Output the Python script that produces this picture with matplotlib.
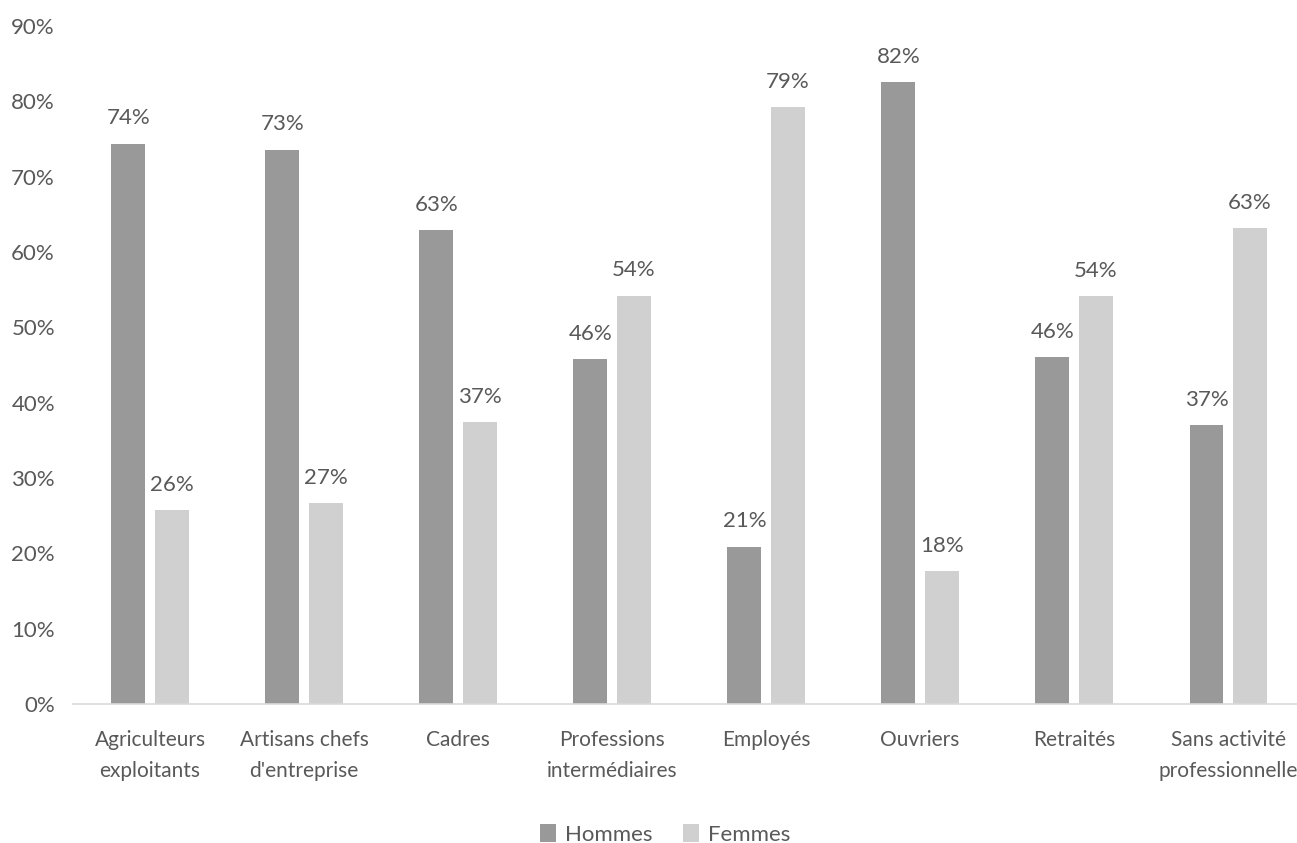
import numpy as np
import matplotlib.pyplot as plt

categories = ["Agriculteurs\nexploitants", "Artisans chefs\nd'entreprise", "Cadres",
              "Professions\nintermédiaires", "Employés", "Ouvriers", "Retraités",
              "Sans activité\nprofessionnelle"]
hommes = [74.4, 73.6, 62.9, 45.8, 20.9, 82.6, 46.0, 37.0]
femmes = [25.7, 26.7, 37.4, 54.2, 79.2, 17.6, 54.1, 63.2]
hommes_labels = ["74%", "73%", "63%", "46%", "21%", "82%", "46%", "37%"]
femmes_labels = ["26%", "27%", "37%", "54%", "79%", "18%", "54%", "63%"]

plt.rcParams['font.family'] = ['Lato', 'DejaVu Sans']
txt = '#595959'
fs = 16

fig = plt.figure(figsize=(12.97, 8.43), dpi=100)
ax = fig.add_axes([0.0563, 0.165, 0.95, 0.804])

x = np.arange(len(categories))
w = 0.22
off = 0.141
b1 = ax.bar(x - off, hommes, w, color='#999999', label='Hommes')
b2 = ax.bar(x + off, femmes, w, color='#d0d0d0', label='Femmes')

for bars, labs in ((b1, hommes_labels), (b2, femmes_labels)):
    for r, lab in zip(bars, labs):
        ax.annotate(lab, (r.get_x() + r.get_width() / 2, r.get_height()),
                    xytext=(0, 11), textcoords='offset points',
                    ha='center', va='bottom', fontsize=fs, color=txt)

ax.set_ylim(0, 90)
ax.set_yticks(np.arange(0, 91, 10))
ax.set_yticklabels([f'{v}%' for v in range(0, 91, 10)])
ax.set_xlim(-0.5, 7.5)
ax.set_xticks(x)
ax.set_xticklabels(categories, linespacing=1.65)
ax.tick_params(axis='both', length=0, colors=txt)
ax.tick_params(axis='y', labelsize=fs, pad=13)
ax.tick_params(axis='x', labelsize=15, pad=19)
for s in ('top', 'right', 'left'):
    ax.spines[s].set_visible(False)
ax.spines['bottom'].set_color('#d9d9d9')
ax.spines['bottom'].set_linewidth(1.2)

leg = fig.legend(loc='lower center', bbox_to_anchor=(0.513, -0.026), ncol=2, frameon=False,
                 fontsize=fs, handlelength=0.7, handleheight=0.9, handletextpad=0.4,
                 columnspacing=1.4)
for t in leg.get_texts():
    t.set_color(txt)

fig.savefig('out.png', dpi=100)
